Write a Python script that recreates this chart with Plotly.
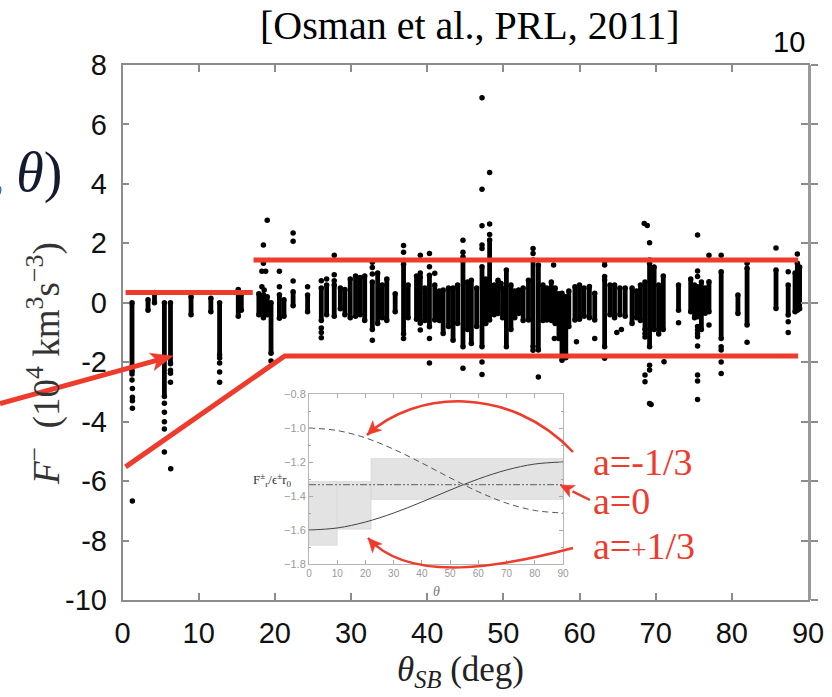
import plotly.graph_objects as go

W, H = 832, 697

# ---------------- main scatter data ----------------
# dense vertical clusters: theta, top F, bottom F
col_theta = [1.25, 3.35, 4.2, 5.5, 6.3, 9.0, 11.6, 12.75, 15.2, 15.6,
             17.9, 18.5, 19.0, 19.5, 20.6, 21.2, 22.4, 24.3, 26.1, 26.8,
             27.8, 28.6, 29.2, 29.9, 30.6, 31.2, 31.8, 32.8, 33.5, 34.1,
             34.7, 35.8, 36.9, 37.5, 38.6, 39.1, 39.7, 40.3, 41.0, 41.6,
             42.1, 42.8, 43.4, 44.0, 44.7, 45.3, 45.8, 46.5, 47.2, 47.7,
             48.2, 48.8, 49.3, 49.9, 50.4, 51.0, 51.5, 52.0, 52.6, 53.3,
             53.9, 54.6, 55.2, 55.7, 56.3, 56.8, 57.3, 57.7, 58.2, 58.6,
             59.4, 60.0, 60.6, 61.3, 62.0, 63.3, 64.0, 64.6, 65.3, 66.0,
             66.9, 67.5, 68.0, 68.6, 69.2, 69.8, 70.4, 71.0, 73.0, 74.6,
             75.1, 75.5, 76.0, 76.5, 77.0, 78.6, 80.8, 82.0, 85.8, 87.4,
             88.3, 88.6, 88.9]
col_top = [0.0, 0.1, 0.35, 0.0, 0.0, 0.2, 0.15, 0.0, 0.45, 0.3,
           0.3, 0.27, 0.2, 0.0, 0.27, 0.1, 0.37, 0.26, 0.5, 0.6,
           0.6, 0.5, 0.45, 0.8, 0.9, 0.85, 0.9, 0.7, 1.0, 0.6,
           0.8, 0.3, 1.3, 0.6, 0.9, 0.87, 0.5, 0.93, 0.6, 0.4,
           0.43, 0.5, 0.5, 0.6, 1.55, 0.7, 0.76, 0.5, 1.21, 0.8,
           2.11, 0.6, 0.76, 0.5, 1.1, 0.6, 0.4, 0.43, 0.5, 0.76,
           1.44, 1.27, 0.6, 0.5, 0.7, 0.5, 0.3, 0.32, 0.2, 0.4,
           0.54, 0.6, 0.5, 0.55, 0.32, 0.77, 0.6, 0.6, 0.5, 0.5,
           0.5, 0.4, 0.6, 0.7, 1.33, 1.2, 0.6, 0.9, 0.6, 0.8,
           0.6, 0.54, 0.7, 0.5, 0.71, 1.04, 0.26, 1.16, 1.1, 0.6,
           1.0, 1.33, 1.2]
col_bot = [-2.3, -0.25, 0.0, -3.15, -2.05, -0.4, -0.3, -1.75, -0.45, -0.25,
           -0.4, -0.5, -0.4, -1.7, -0.52, -0.45, -0.1, -0.3, -0.6, -0.4,
           -0.45, -0.2, -0.4, -0.5, -0.45, -0.4, -0.6, -0.9, -0.7, -0.5,
           -0.6, -0.3, -1.05, -0.5, -0.55, -0.69, -0.6, -0.81, -0.58, -0.6,
           -1.03, -0.8, -1.26, -0.7, -1.48, -0.9, -1.37, -0.8, -1.48, -0.7,
           -0.58, -0.4, -0.36, -0.5, -1.48, -0.9, -0.5, -0.36, -0.6, -0.58,
           -1.48, -1.59, -0.6, -0.58, -0.6, -0.7, -1.2, -1.93, -1.85, -0.8,
           -0.58, -0.55, -0.45, -0.5, -0.58, -1.48, -0.4, -0.5, -0.4, -0.45,
           -0.7, -0.5, -0.6, -0.9, -1.48, -0.9, -1.05, -0.9, -0.25, -0.3,
           -0.5, -0.47, -0.9, -0.35, -0.3, -1.2, -0.36, -0.75, -0.19, -0.41,
           -0.3, -0.25, -0.2]

# isolated points: theta, F
out_theta = [1.25, 1.25, 1.3, 1.3, 1.3, 1.3, 1.3,
             5.5, 5.5, 5.5, 5.5, 5.5, 6.33, 6.3, 6.3, 6.3,
             12.75, 12.75, 12.75, 12.75,
             19.0, 18.5, 18.5, 18.8, 18.3, 18.3, 18.6, 19.5, 20.6, 20.6,
             22.4, 22.4, 22.4, 24.3, 26.1, 26.1, 26.1, 26.1, 26.8,
             27.8, 27.8, 27.8, 32.8, 32.8, 32.8, 32.8,
             36.9, 36.9, 36.9, 36.9, 39.1, 39.1, 39.1,
             40.3, 40.3, 40.3, 40.3, 41.0, 44.7, 44.7, 44.7,
             47.2, 47.2, 47.2, 47.2, 47.2, 47.2, 47.2, 48.2, 48.2, 48.2,
             49.7, 53.9, 53.9, 53.9, 54.6, 56.6, 56.7, 59.6, 62.0,
             63.3, 63.3, 63.3, 63.3, 64.9, 65.5,
             68.5, 68.9, 68.6, 68.6, 68.6, 68.6,
             69.2, 69.2, 69.2, 69.2, 69.2, 69.4, 71.1, 73.0,
             75.5, 75.5, 75.5, 75.5, 75.5, 75.5, 75.5, 75.5, 75.5, 75.5, 75.5,
             77.0, 77.0, 78.6, 78.6, 78.6, 78.6, 78.6,
             82.0, 82.0, 85.8, 87.4, 87.4, 87.4, 88.6]
out_F = [-2.4, -2.6, -2.88, -3.18, -3.3, -3.55, -6.67,
         -3.38, -3.68, -4.0, -4.25, -5.02, -5.58, -2.27, -2.37, -2.67,
         -1.86, -2.03, -2.33, -2.67,
         2.78, 1.94, 1.33, 1.06, 1.06, 0.54, 0.43, -1.96, 1.06, 0.54,
         2.35, 2.07, 0.73, 0.54, 0.74, -0.85, -1.0, -1.18, 0.8,
         1.6, 0.94, 0.74, 1.36, 1.19, 0.97, -1.26,
         1.93, 1.7, 1.42, -1.2, 1.6, 1.0, -0.92,
         1.66, 1.21, -1.2, -2.03, 0.99, 2.1, 1.7, -2.2,
         6.9, 3.82, 2.59, 1.94, 1.83, -1.99, -2.41, 4.38, 2.65, 2.3,
         0.65, 1.83, 1.66, -1.6, -2.5, 1.27, -1.2, -1.31, -1.2,
         1.4, 1.27, 0.88, -1.87, -1.0, -0.9,
         2.67, 2.6, -1.03, -1.15, -2.43, -2.66,
         2.02, 1.44, -2.1, -2.26, -3.39, -3.42, -1.98, -0.67,
         2.28, 1.07, 0.88, -0.8, -0.92, -1.03, -1.14, -1.45, -2.43, -2.63, -3.25,
         1.6, -0.75, 1.6, -1.48, -1.59, -1.99, -2.38,
         1.33, -1.33, 1.84, 1.04, -0.64, -1.0, 1.64]

# hand-drawn red guide lines (data units)
red_left_theta = [0.4, 17.1]
red_left_F = [0.35, 0.35]
red_upper_theta = [17.2, 88.7]
red_upper_F = [1.44, 1.44]
red_lower_theta = [0.4, 21.3, 88.7]
red_lower_F = [-5.52, -1.79, -1.79]

x_ticks = [0, 10, 20, 30, 40, 50, 60, 70, 80, 90]
y_ticks = [-10, -8, -6, -4, -2, 0, 2, 4, 6, 8]
y_ticktext = ["-10", "-8", "-6", "-4", "-2", "0", "2", "4", "6", "8"]

# ---------------- inset data ----------------
inset_theta = [0, 10, 20, 30, 40, 50, 60, 70, 80, 90]
inset_a_neg = [-1.0, -1.015, -1.058, -1.125, -1.206, -1.293, -1.375, -1.442, -1.485, -1.5]
inset_a_pos = [-1.6, -1.588, -1.553, -1.5, -1.435, -1.365, -1.3, -1.247, -1.212, -1.2]
inset_zero_theta = [0, 90]
inset_a_zero = [-1.333, -1.333]
box_x0 = [0, 10, 22]
box_x1 = [10, 22, 90]
box_y0 = [-1.69, -1.595, -1.42]
box_y1 = [-1.315, -1.315, -1.18]
inset_yticks = [-0.8, -1.0, -1.2, -1.4, -1.6, -1.8]
inset_yticktext = ["\u22120.8", "\u22121.0", "\u22121.2", "\u22121.4", "\u22121.6", "\u22121.8"]

RED = "#EE3B2C"
AX = "#8c8c8c"


def X(px):
    return px / W


def Y(py):
    return 1 - py / H


fig = go.Figure()

# columns
cx, cy = [], []
for t, a, b in zip(col_theta, col_top, col_bot):
    cx += [t, t, None]
    cy += [a, b, None]
fig.add_trace(go.Scatter(x=cx, y=cy, mode="lines+markers",
                         line=dict(color="black", width=4.8),
                         marker=dict(color="black", size=5.5),
                         xaxis="x", yaxis="y", hoverinfo="skip"))
fig.add_trace(go.Scatter(x=out_theta, y=out_F, mode="markers",
                         marker=dict(color="black", size=5.5),
                         xaxis="x", yaxis="y", hoverinfo="skip"))
for xs, ys in [(red_left_theta, red_left_F), (red_upper_theta, red_upper_F),
               (red_lower_theta, red_lower_F)]:
    fig.add_trace(go.Scatter(x=xs, y=ys, mode="lines",
                             line=dict(color=RED, width=5),
                             xaxis="x", yaxis="y", hoverinfo="skip"))
# invisible helper for right-side outer ticks
fig.add_trace(go.Scatter(x=[0], y=[0], mode="markers", marker=dict(opacity=0),
                         xaxis="x", yaxis="y3", hoverinfo="skip"))

# inset curves
fig.add_trace(go.Scatter(x=inset_theta, y=inset_a_neg, mode="lines", line_shape="spline",
                         line=dict(color="#555", width=1, dash="6px,4px"),
                         xaxis="x2", yaxis="y2", hoverinfo="skip"))
fig.add_trace(go.Scatter(x=inset_theta, y=inset_a_pos, mode="lines", line_shape="spline",
                         line=dict(color="#444", width=1),
                         xaxis="x2", yaxis="y2", hoverinfo="skip"))
fig.add_trace(go.Scatter(x=inset_zero_theta, y=inset_a_zero, mode="lines",
                         line=dict(color="#777", width=1.3, dash="7px,2px,2px,2px,2px,2px"),
                         xaxis="x2", yaxis="y2", hoverinfo="skip"))

shapes = []
for x0, x1, y0, y1 in zip(box_x0, box_x1, box_y0, box_y1):
    shapes.append(dict(type="rect", xref="x2", yref="y2", x0=x0, x1=x1, y0=y0, y1=y1,
                       fillcolor="#e3e3e3", line=dict(color="#d2d2d2", width=0.6), layer="below"))


def arrow_head(tip, frm, L, w):
    dx, dy = tip[0] - frm[0], tip[1] - frm[1]
    n = (dx * dx + dy * dy) ** 0.5
    dx, dy = dx / n, dy / n
    bx, by = tip[0] - L * dx, tip[1] - L * dy
    nx, ny = -dy, dx
    p1 = (bx + w * nx, by + w * ny)
    p2 = (bx - w * nx, by - w * ny)
    path = (f"M {X(tip[0])},{Y(tip[1])} L {X(p1[0])},{Y(p1[1])} "
            f"L {X(bx + 0.25 * L * dx)},{Y(by + 0.25 * L * dy)} L {X(p2[0])},{Y(p2[1])} Z")
    return dict(type="path", xref="paper", yref="paper", path=path,
                fillcolor=RED, line=dict(color=RED, width=0.5), layer="above"), (bx, by)


# left arrow (pixel geometry of the hand-drawn annotation)
tail, tip = (0, 403.5), (173, 356)
head, base = arrow_head(tip, tail, 22, 9)
shapes.append(dict(type="line", xref="paper", yref="paper", x0=X(tail[0]), y0=Y(tail[1]),
                   x1=X(base[0] + 6 * 0.96), y1=Y(base[1] - 6 * 0.27),
                   line=dict(color=RED, width=5), layer="above"))
shapes.append(head)

# curved arrows near inset
curveA = [(573, 452), (510, 385), (415, 390), (367, 435)]
curveC = [(573, 548), (505, 566), (410, 585), (368, 538)]
for c in (curveA, curveC):
    p = (f"M {X(c[0][0])},{Y(c[0][1])} C {X(c[1][0])},{Y(c[1][1])} "
         f"{X(c[2][0])},{Y(c[2][1])} {X(c[3][0])},{Y(c[3][1])}")
    shapes.append(dict(type="path", xref="paper", yref="paper", path=p,
                       line=dict(color=RED, width=2.5), layer="above"))
    h, _ = arrow_head(c[3], c[2], 14, 6.5)
    shapes.append(h)
# straight arrow to a=0 line
tailB, tipB = (590, 500), (560, 485)
hB, baseB = arrow_head(tipB, tailB, 14, 6.5)
shapes.append(dict(type="line", xref="paper", yref="paper", x0=X(tailB[0]), y0=Y(tailB[1]),
                   x1=X(baseB[0]), y1=Y(baseB[1]), line=dict(color=RED, width=2.5), layer="above"))
shapes.append(hB)


def ann(text, px, py, size, color, family="Liberation Serif", xanchor="center", **kw):
    return dict(text=text, x=X(px), y=Y(py), xref="paper", yref="paper", showarrow=False,
                xanchor=xanchor, yanchor="middle",
                font=dict(family=family, size=size, color=color), **kw)


annotations = [
    ann("[Osman et al., PRL, 2011]", 470, 25, 40, "black"),
    ann("10", 789, 42, 29, "black", family="Liberation Sans"),
    ann("<span style='color:#2a6fd6'>,</span>\u2009<i>\u03b8</i>)", 64, 172, 56, "#141a30",
        xanchor="right"),
    ann("<i>F</i><sup>\u2212</sup>  (10<sup>4</sup> km<sup>3</sup>s<sup>\u22123</sup>)",
        44, 364, 37, "#333", textangle=-90),
    ann("<i>\u03b8</i><sub><i>SB</i></sub> (deg)", 460, 671, 35, "#222"),
    ann("F<sup>\u00b1</sup><sub>r</sub>/\u03f5<sup>\u00b1</sup>r<sub>0</sub>", 272, 480, 13, "#333"),
    ann("<i>\u03b8</i>", 436, 591, 14, "#777"),
    ann("a=-1/3", 591, 462, 38, RED, xanchor="left"),
    ann("a=0", 591, 501, 38, RED, xanchor="left"),
    ann("a=<span style='font-size:27px'>+</span>1/3", 591, 546, 38, RED, xanchor="left"),
]

axis_common = dict(showgrid=False, zeroline=False, ticks="inside", mirror="ticks",
                   showline=True)

fig.update_layout(
    width=W, height=H, margin=dict(l=0, r=0, t=0, b=0, autoexpand=False),
    paper_bgcolor="white", plot_bgcolor="white", showlegend=False,
    xaxis=dict(domain=[X(122.5), X(808)], range=[0, 90], anchor="y",
               tickvals=x_ticks, ticktext=[str(v) for v in x_ticks],
               ticklen=7, tickwidth=1.5, tickcolor=AX, linecolor=AX, linewidth=1.5,
               tickfont=dict(family="Liberation Sans", size=29, color="#111"),
               ticklabelstandoff=6, **axis_common),
    yaxis=dict(domain=[Y(600), Y(65)], range=[-10, 8], anchor="x",
               tickvals=y_ticks, ticktext=y_ticktext,
               ticklen=7, tickwidth=1.5, tickcolor=AX, linecolor=AX, linewidth=1.5,
               tickfont=dict(family="Liberation Sans", size=29, color="#111"),
               ticklabelstandoff=8, **axis_common),
    yaxis3=dict(overlaying="y", side="right", anchor="x", range=[-10, 8], tickvals=y_ticks,
                ticks="outside", ticklen=7, tickwidth=1.5, tickcolor=AX, showticklabels=False,
                showline=True, linecolor="#999", linewidth=2.5, showgrid=False, zeroline=False),
    xaxis2=dict(domain=[X(309), X(563)], range=[0, 90], anchor="y2",
                tickvals=x_ticks, ticklen=4, tickwidth=1, tickcolor="#aaa",
                linecolor="#b5b5b5", linewidth=1,
                tickfont=dict(family="Liberation Sans", size=10, color="#999"),
                **axis_common),
    yaxis2=dict(domain=[Y(564), Y(394)], range=[-1.8, -0.8], anchor="x2",
                tickvals=inset_yticks, ticktext=inset_yticktext, ticklen=4, tickwidth=1,
                tickcolor="#aaa", linecolor="#b5b5b5", linewidth=1,
                minor=dict(dtick=0.1, ticks="inside", ticklen=2, tickcolor="#aaa"),
                tickfont=dict(family="Liberation Sans", size=11, color="#999"),
                **axis_common),
    shapes=shapes, annotations=annotations,
)

fig.write_html("out.html", config={"displayModeBar": False},
               post_script="document.body.style.margin='0px';")
